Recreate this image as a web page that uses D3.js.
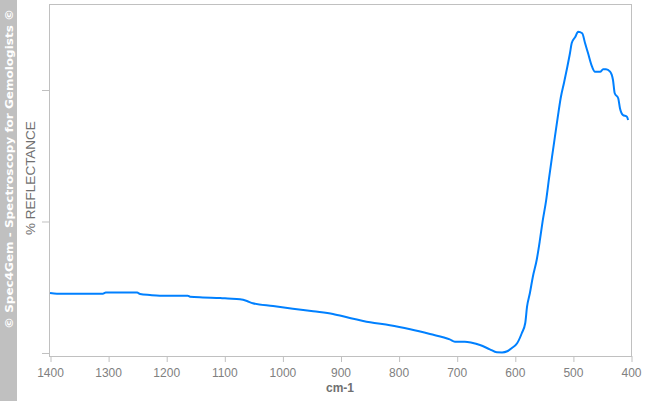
<!DOCTYPE html>
<html><head><meta charset="utf-8">
<script src="https://cdn.jsdelivr.net/npm/d3@7"></script>
<style>body{margin:0;background:#fff}svg{display:block}</style>
</head><body>
<script>
const wavenumbers = [1400,1388,1309,1304,1250,1245,1228,1211,1163,1159,1137,1107,1094,1073,1061,1051,1016,982,947,913,884,849,815,780,746,712,703,686,674,660,643,631,622,613,605,596,588,582,579,574,569,562,557,552,546,541,536,531,526,521,515,510,505,502,496,491,484,479,474,467,462,453,448,443,436,431,428,422,419,414,407,405];
const reflectance = [4.56,4.51,4.51,4.59,4.59,4.49,4.41,4.36,4.36,4.28,4.22,4.18,4.14,4.08,3.95,3.78,3.57,3.37,3.17,2.97,2.66,2.33,2.11,1.80,1.44,1.04,0.86,0.86,0.78,0.61,0.28,0.05,0.04,0.13,0.38,0.74,1.50,2.28,3.50,4.56,5.78,7.15,8.52,10.04,11.63,13.31,14.90,16.43,17.95,19.39,20.61,21.67,22.81,23.57,24.03,24.43,24.31,23.55,22.81,21.77,21.39,21.39,21.57,21.57,21.39,20.76,19.75,19.37,18.61,18.10,17.97,17.72];
const xTicks = [1400,1300,1200,1100,1000,900,800,700,600,500,400];
const yTicks = [0,10,20];

const W = 646, H = 401;
const svg = d3.select("body").append("svg").attr("width", W).attr("height", H);

// left watermark strip
svg.append("rect").attr("x",0).attr("y",0).attr("width",17).attr("height",H).attr("fill","#c0c0c0");
svg.append("text")
  .attr("transform","translate(12.5,169) rotate(-90)")
  .attr("text-anchor","middle")
  .attr("font-family","DejaVu Sans, Verdana, sans-serif")
  .attr("font-weight","bold").attr("font-size",11)
  .attr("fill","#fff")
  .attr("textLength",320).attr("lengthAdjust","spacingAndGlyphs")
  .text("© Spec4Gem - Spectroscopy for Gemologists ©");

const x = d3.scaleLinear().domain([1400,400]).range([50,631]);
const y = d3.scaleLinear().domain([-0.23,26.54]).range([356,4]);

// frame
svg.append("rect").attr("x",49.5).attr("y",4.5).attr("width",582).attr("height",352)
  .attr("fill","none").attr("stroke","#c0c0c0").attr("stroke-width",1);

const gx = svg.append("g").attr("transform","translate(0,356)")
  .call(d3.axisBottom(x).tickValues(xTicks).tickFormat(d3.format("d")).tickSize(6).tickPadding(6));
gx.select(".domain").remove();
gx.selectAll("line").attr("stroke","#c0c0c0").attr("transform","translate(0.5,0)");
gx.selectAll("text").attr("fill","#808080").attr("font-size",12)
  .attr("font-family","Liberation Sans, Arial, sans-serif");

const gy = svg.append("g").attr("transform","translate(50,0)")
  .call(d3.axisLeft(y).tickValues(yTicks).tickFormat("").tickSize(8));
gy.select(".domain").remove();
gy.selectAll("line").attr("stroke","#c0c0c0");

svg.append("text").attr("x",340).attr("y",392).attr("text-anchor","middle")
  .attr("font-family","Liberation Sans, Arial, sans-serif").attr("font-weight","bold")
  .attr("font-size",12).attr("fill","#707070").text("cm-1");

svg.append("text").attr("transform","translate(35,178) rotate(-90)").attr("text-anchor","middle")
  .attr("font-family","Liberation Sans, Arial, sans-serif")
  .attr("font-size",13.5).attr("fill","#707070").text("% REFLECTANCE");

const line = d3.line().x((d,i)=>x(wavenumbers[i])).y(d=>y(d)).curve(d3.curveMonotoneX);
svg.append("path").datum(reflectance).attr("d",line)
  .attr("fill","none").attr("stroke","#0080ff").attr("stroke-width",2);
</script>
</body></html>
